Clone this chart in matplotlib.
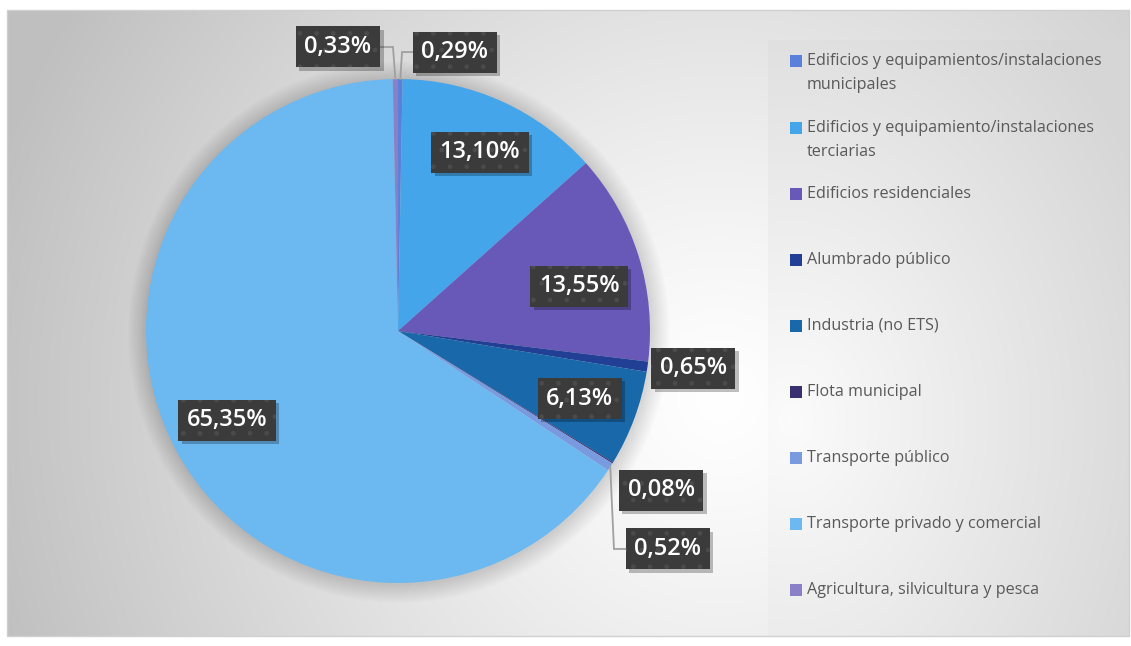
import numpy as np
import matplotlib
matplotlib.use("Agg")
import matplotlib.pyplot as plt
from matplotlib.patches import Rectangle, Circle
import matplotlib.patheffects as pe

# ---------------- data ----------------
categories = [
    "Edificios y equipamientos/instalaciones\nmunicipales",
    "Edificios y equipamiento/instalaciones\nterciarias",
    "Edificios residenciales",
    "Alumbrado público",
    "Industria (no ETS)",
    "Flota municipal",
    "Transporte público",
    "Transporte privado y comercial",
    "Agricultura, silvicultura y pesca",
]
values = [0.29, 13.10, 13.55, 0.65, 6.13, 0.08, 0.52, 65.35, 0.33]
colors = ["#5B80DC", "#44A5EB", "#6858B8", "#203F95", "#1868AA",
          "#383070", "#7A9AE0", "#6CB8F0", "#8A80C8"]

# ---------------- layout ----------------
W, H = 1131, 646
fig = plt.figure(figsize=(W / 100, H / 100), dpi=100)
fig.patch.set_facecolor("white")

def fx(x):
    return x / W

def fy(y):
    return 1 - y / H

# background gradients
bg = fig.add_axes([0, 0, 1, 1], zorder=0)
bg.set_axis_off()
yy, xx = np.mgrid[0:H, 0:W]
img = np.ones((H, W, 3))
d = np.sqrt((xx - 720.0) ** 2 + (yy - 400.0) ** 2) / 760.0
d = np.clip(d, 0, 1) ** 1.2
val = 1.0 - d * (1.0 - 0.75)
inside = (xx >= 7) & (xx <= 1129) & (yy >= 10) & (yy <= 636)
for c in range(3):
    img[..., c] = np.where(inside, val, 1.0)
# legend box gradient
lg = (xx >= 768) & (xx <= 1129) & (yy >= 40) & (yy <= 635)
d2 = np.sqrt(((xx - 790.0) / 1.0) ** 2 + ((yy - 420.0) / 1.3) ** 2) / 400.0
d2 = np.clip(d2, 0, 1)
val2 = 0.985 - d2 * (0.985 - 0.84)
for c in range(3):
    img[..., c] = np.where(lg, val2, img[..., c])
bg.imshow(img, extent=[0, W, H, 0], aspect="auto", interpolation="bilinear")
bg.set_xlim(0, W)
bg.set_ylim(H, 0)
bg.add_patch(Rectangle((7, 10), 1122, 626, fill=False, edgecolor="#d0d0d0", lw=1))

# pie axes
cx, cy, R = 398, 331, 252
ax = fig.add_axes([fx(cx - R), fy(cy + R), 2 * R / W, 2 * R / H], zorder=2)
ax.set_xlim(-1, 1)
ax.set_ylim(-1, 1)
ax.set_axis_off()

# soft shadow around the pie
n = 18
for i in range(n):
    r = 1.0 + 0.0042 * (n - i)
    ax.add_patch(Circle((0.003, -0.004), r, color="black", alpha=0.008, lw=0,
                        zorder=1, clip_on=False))

wedges, _ = ax.pie(values, colors=colors, startangle=90, counterclock=False,
                   radius=1.0, wedgeprops=dict(linewidth=0, clip_on=False), normalize=True)
for w in wedges:
    w.set_zorder(3)
ax.set_xlim(-1, 1)
ax.set_ylim(-1, 1)
ax.set_aspect("auto")

# label layout: inside labels at radius; outside labels at given positions with elbow x
outside = {
    0: dict(pos=(0.226, 1.107), elbow=0.016),
    3: dict(pos=(1.171, -0.147), elbow=None),
    5: dict(pos=(1.044, -0.631), elbow=None),
    6: dict(pos=(1.071, -0.865), elbow=0.857),
    8: dict(pos=(-0.238, 1.127), elbow=-0.020),
}
inside_r = {1: 0.78, 2: 0.74, 4: 0.77, 7: 0.765}
inside_dang = {2: -3.6, 7: -1.3}

def fmt(v):
    return f"{v:.2f}".replace(".", ",") + "%"

lbl_font = dict(fontsize=17, fontweight="semibold", family=["Open Sans", "DejaVu Sans"])
for i, (w, v) in enumerate(zip(wedges, values)):
    mid = np.deg2rad((w.theta1 + w.theta2) / 2)
    if i in outside:
        lx, ly = outside[i]["pos"]
        ex = outside[i]["elbow"]
        if ex is not None:
            px0, py0 = np.cos(mid), np.sin(mid)
            ax.plot([px0, ex, lx], [py0, ly, ly], color="#a0a0a0", lw=1.3,
                    zorder=4, solid_joinstyle="miter", clip_on=False)
    else:
        a = mid + np.deg2rad(inside_dang.get(i, 0))
        r = inside_r[i]
        lx, ly = r * np.cos(a), r * np.sin(a)
    # shadow layer (plain box)
    t0 = ax.text(lx, ly, fmt(v), ha="center", va="center", color="#3b3b3b",
                 zorder=5, clip_on=False, **lbl_font,
                 bbox=dict(boxstyle="square,pad=0.36", facecolor="#3b3b3b",
                           edgecolor="none", linewidth=0))
    t0.get_bbox_patch().set_path_effects([
        pe.SimplePatchShadow(offset=(2.5, -2.5), shadow_rgbFace="black", alpha=0.25),
        pe.Normal()])
    # textured box with text
    ax.text(lx, ly, fmt(v), ha="center", va="center", color="white",
            zorder=6, clip_on=False, **lbl_font,
            bbox=dict(boxstyle="square,pad=0.36", facecolor="#3b3b3b",
                      edgecolor="#4b4b4b", hatch=".", linewidth=0))

# legend
leg_y = [61, 128, 194, 260, 326, 392, 458, 524, 590]
for cat, col, y in zip(categories, colors, leg_y):
    bg.add_patch(Rectangle((790, y - 6), 12, 12, facecolor=col, edgecolor="none", zorder=3))
    for k, ln in enumerate(cat.split("\n")):
        bg.text(807, y + 24 * k, ln, ha="left", va="center",
                fontsize=11.6, color="#595959", family=["Open Sans", "DejaVu Sans"], zorder=3)

fig.savefig("out.png", dpi=100, facecolor=fig.get_facecolor())
